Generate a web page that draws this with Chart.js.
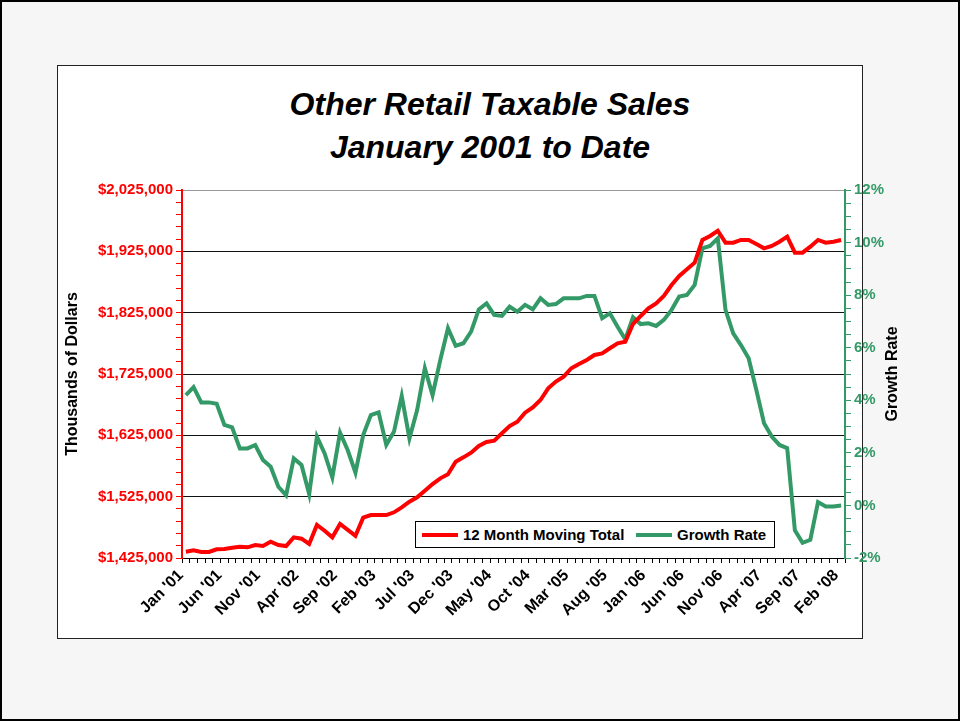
<!DOCTYPE html>
<html>
<head>
<meta charset="utf-8">
<title>Other Retail Taxable Sales</title>
<script src="https://cdn.jsdelivr.net/npm/chart.js@4.4.1/dist/chart.umd.min.js"></script>
<style>
  html, body { margin: 0; padding: 0; }
  body {
    width: 960px; height: 721px; position: relative; overflow: hidden;
    background: #f6f6f6; font-family: "Liberation Sans", Arial, sans-serif;
  }
  #frame { position: absolute; left: 0; top: 0; width: 956px; height: 717px; border: 2px solid #000; }
  #panel { position: absolute; left: 57px; top: 65px; width: 804px; height: 572px; background: #fff; border: 1px solid #222; }
  #title {
    position: absolute; left: 240px; top: 83px; width: 500px; text-align: center;
    font: italic bold 32px "Liberation Sans", Arial, sans-serif; line-height: 43px; color: #000;
  }
  #chart { position: absolute; left: 0; top: 0; }
  #legend {
    position: absolute; left: 415px; top: 521px; width: 358px; height: 25px;
    background: #fff; border: 1px solid #000;
    font: bold 15px "Liberation Sans", Arial, sans-serif; color: #000;
  }
  #legend .item { position: absolute; top: 0; height: 25px; line-height: 25px; white-space: nowrap; }
  #legend .swatch { display: inline-block; width: 36px; height: 4px; vertical-align: middle; margin-right: 5px; position: relative; top: -1px; }
</style>
</head>
<body>
<div id="frame"></div>
<div id="panel"></div>
<div id="title">Other Retail Taxable Sales<br>January 2001 to Date</div>
<canvas id="chart" width="960" height="721"></canvas>
<div id="legend"></div>

<script>
// months, Jan 2001 .. Feb 2008
const months = [
  "Jan '01", "Feb '01", "Mar '01", "Apr '01", "May '01", "Jun '01", "Jul '01", "Aug '01", "Sep '01", "Oct '01", "Nov '01", "Dec '01",
  "Jan '02", "Feb '02", "Mar '02", "Apr '02", "May '02", "Jun '02", "Jul '02", "Aug '02", "Sep '02", "Oct '02", "Nov '02", "Dec '02",
  "Jan '03", "Feb '03", "Mar '03", "Apr '03", "May '03", "Jun '03", "Jul '03", "Aug '03", "Sep '03", "Oct '03", "Nov '03", "Dec '03",
  "Jan '04", "Feb '04", "Mar '04", "Apr '04", "May '04", "Jun '04", "Jul '04", "Aug '04", "Sep '04", "Oct '04", "Nov '04", "Dec '04",
  "Jan '05", "Feb '05", "Mar '05", "Apr '05", "May '05", "Jun '05", "Jul '05", "Aug '05", "Sep '05", "Oct '05", "Nov '05", "Dec '05",
  "Jan '06", "Feb '06", "Mar '06", "Apr '06", "May '06", "Jun '06", "Jul '06", "Aug '06", "Sep '06", "Oct '06", "Nov '06", "Dec '06",
  "Jan '07", "Feb '07", "Mar '07", "Apr '07", "May '07", "Jun '07", "Jul '07", "Aug '07", "Sep '07", "Oct '07", "Nov '07", "Dec '07",
  "Jan '08", "Feb '08"
];

// 12 month moving total, thousands of dollars
const movingTotal = [
  1435300, 1437500, 1434800, 1434800, 1439100, 1439600, 1441800, 1443400, 1442400, 1446200,
  1444500, 1451600, 1446200, 1444500, 1458700, 1456500, 1447800, 1478800, 1469500, 1458700,
  1480400, 1471000, 1461300, 1490700, 1495000, 1495000, 1495000, 1499500, 1507600, 1516800,
  1523900, 1534700, 1545600, 1554900, 1561400, 1582000, 1589100, 1596700, 1607600, 1614100,
  1616300, 1628300, 1640200, 1647200, 1661900, 1670600, 1682600, 1701700, 1712600, 1720700,
  1734400, 1741300, 1747900, 1756000, 1758700, 1767000, 1775000, 1777700, 1806500, 1819600,
  1832000, 1840200, 1852200, 1870100, 1885000, 1895700, 1906500, 1943500, 1950000, 1958600,
  1939100, 1939100, 1943500, 1943500, 1937000, 1929900, 1933700, 1940700, 1948900, 1922800,
  1922800, 1932600, 1943500, 1939100, 1940700, 1943500
];

// growth rate, percent
const growthRate = [
  4.2, 4.5, 3.92, 3.92, 3.87, 3.06, 2.97, 2.17, 2.17, 2.3,
  1.73, 1.47, 0.71, 0.39, 1.79, 1.54, 0.43, 2.62, 1.98, 1.07,
  2.77, 2.1, 1.25, 2.68, 3.44, 3.54, 2.3, 2.81, 4.16, 2.55,
  3.63, 5.22, 4.2, 5.53, 6.74, 6.07, 6.17, 6.61, 7.46, 7.69,
  7.25, 7.21, 7.56, 7.37, 7.63, 7.46, 7.88, 7.63, 7.66, 7.88,
  7.88, 7.88, 7.97, 7.97, 7.12, 7.31, 6.8, 6.32, 7.16, 6.9,
  6.93, 6.83, 7.06, 7.44, 7.95, 8.01, 8.39, 9.78, 9.87, 10.16,
  7.44, 6.55, 6.1, 5.6, 4.39, 3.13, 2.62, 2.3, 2.18, -0.95,
  -1.42, -1.31, 0.13, -0.04, -0.04, 0.0
];

// tick labels shown on the axes
const monthTicks = ["Jan '01", "Jun '01", "Nov '01", "Apr '02", "Sep '02", "Feb '03", "Jul '03", "Dec '03", "May '04",
  "Oct '04", "Mar '05", "Aug '05", "Jan '06", "Jun '06", "Nov '06", "Apr '07", "Sep '07", "Feb '08"];
const dollarTicks = [1425000, 1525000, 1625000, 1725000, 1825000, 1925000, 2025000];
const percentTicks = [-2, 0, 2, 4, 6, 8, 10, 12];

const RED = '#ff0000';
const GREEN = '#339966';
const FONT = '"Liberation Sans", Arial, sans-serif';
const labelFont = { family: FONT, size: 15, weight: 'bold' };

// right axis title reads bottom to top, like the left one
const rightTitle = {
  id: 'rightTitle',
  afterDraw(chart) {
    const s = chart.scales.y1;
    const c = chart.ctx;
    c.save();
    c.translate(s.right - 12, (chart.chartArea.top + chart.chartArea.bottom) / 2);
    c.rotate(-Math.PI / 2);
    c.font = 'bold 16px ' + FONT;
    c.fillStyle = '#000';
    c.textAlign = 'center';
    c.textBaseline = 'middle';
    c.fillText('Growth Rate', 0, 0);
    c.restore();
  }
};

const chart = new Chart(document.getElementById('chart'), {
  type: 'line',
  data: {
    labels: months,
    datasets: [
      { label: '12 Month Moving Total', data: movingTotal, yAxisID: 'y',
        borderColor: RED, backgroundColor: RED, borderWidth: 4, pointRadius: 0, tension: 0 },
      { label: 'Growth Rate', data: growthRate, yAxisID: 'y1',
        borderColor: GREEN, backgroundColor: GREEN, borderWidth: 4, pointRadius: 0, tension: 0 }
    ]
  },
  options: {
    responsive: false,
    animation: false,
    layout: { padding: { left: 60, right: 55, top: 190, bottom: 78 } },
    plugins: {
      legend: { display: false },
      tooltip: { enabled: false },
      title: { display: false }
    },
    scales: {
      x: {
        offset: true,
        grid: { offset: true, drawOnChartArea: false, tickLength: 5, color: '#000' },
        border: { color: '#000', width: 1 },
        ticks: {
          autoSkip: false, maxRotation: 45, minRotation: 45, color: '#000',
          font: { family: FONT, size: 16, weight: 'bold' }, padding: 3, labelOffset: -5,
          callback: (v, i) => monthTicks.includes(months[i]) ? months[i] : ''
        },
        afterFit: (s) => { s.height = 85; }
      },
      y: {
        position: 'left',
        min: 1425000, max: 2025000,
        ticks: {
          autoSkip: false, stepSize: 20000, color: RED, font: labelFont, padding: 3,
          callback: (v) => dollarTicks.includes(v) ? '$' + v.toLocaleString('en-US') : ''
        },
        grid: {
          tickLength: 6, tickColor: RED, lineWidth: 1,
          color: (ctx) => {
            const v = ctx.tick.value;
            if (v === 2025000) return '#999';
            return dollarTicks.includes(v) ? '#111' : 'rgba(0,0,0,0)';
          }
        },
        border: { color: RED, width: 2 },
        title: { display: true, text: 'Thousands of Dollars', color: '#000',
                 font: { family: FONT, size: 16, weight: 'bold' }, padding: { top: 3, bottom: 0 } },
        afterFit: (s) => { s.width = 122; }
      },
      y1: {
        position: 'right',
        min: -2, max: 12,
        ticks: {
          autoSkip: false, stepSize: 0.5, color: GREEN, font: labelFont, padding: 3,
          callback: (v) => percentTicks.includes(v) ? v + '%' : ''
        },
        grid: { drawOnChartArea: false, tickLength: 6, tickColor: GREEN },
        border: { color: GREEN, width: 2 },
        afterFit: (s) => { s.width = 60; }
      }
    }
  },
  plugins: [rightTitle]
});

// legend box inside the plot area
const legend = document.getElementById('legend');
const legendX = [6, 220];
chart.data.datasets.forEach((ds, i) => {
  const item = document.createElement('div');
  item.className = 'item';
  item.style.left = legendX[i] + 'px';
  item.innerHTML = `<span class="swatch" style="background:${ds.borderColor}"></span>${ds.label}`;
  legend.appendChild(item);
});
</script>
</body>
</html>
